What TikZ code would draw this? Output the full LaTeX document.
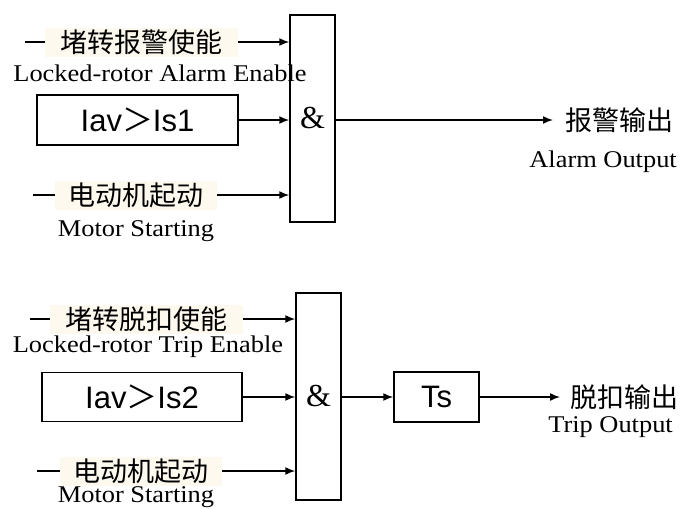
\documentclass[tikz,border=0pt]{standalone}
\usepackage{fontspec}
\setmainfont{Liberation Serif}
\newfontfamily\cjk{Noto Sans CJK SC}
\newfontfamily\arial{Liberation Sans}
\newfontfamily\eng[FakeStretch=1.1]{Liberation Serif}
\usetikzlibrary{arrows.meta}
\definecolor{cream}{RGB}{253,249,238}
\tikzset{
  wire/.style={line width=1.5pt},
  arr/.style={wire,-{Latex[length=10pt,width=8pt]}},
  gate/.style={draw,line width=1.5pt,minimum width=45pt,minimum height=207pt,inner sep=0pt,font=\fontsize{32}{32}\selectfont},
  blk/.style={draw,line width=1.5pt,inner sep=0pt,font=\arial\fontsize{31}{31}\selectfont},
  zh/.style={fill=cream,inner sep=0pt,minimum height=29pt,font=\cjk\fontsize{27}{27}\selectfont},
  en/.style={inner sep=0pt,font=\eng\fontsize{24}{24}\selectfont},
  zhout/.style={inner sep=0pt,font=\cjk\fontsize{27}{27}\selectfont},
}
\begin{document}
\begin{tikzpicture}[x=1pt,y=-1pt]
\useasboundingbox (0,0) rectangle (681,509);
% ---------- top ----------
\node[gate] (g1) at (312.5,118.5) {\&};
\coordinate (a1) at (25,42);
\node[zh,minimum width=193pt] (t1) at (141.5,42) {堵转报警使能};
\node[en] (e1) at (160,73) {Locked-rotor Alarm Enable};
\draw[wire] (a1) -- (t1.west);
\draw[arr] (t1.east) -- (t1.east -| g1.west);
\node[blk,minimum width=201pt,minimum height=50pt] (b1) at (137.5,120) {Iav{\cjk ＞}Is1};
\draw[arr] (b1.east) -- (b1.east -| g1.west);
\coordinate (a3) at (33,195);
\node[zh,minimum width=162pt] (t3) at (136,195) {电动机起动};
\node[en] (e3) at (136,231) {Motor Starting};
\draw[wire] (a3) -- (t3.west);
\draw[arr] (t3.east) -- (t3.east -| g1.west);
\node[zhout,anchor=west] (o1) at (565,120) {报警输出};
\node[en,anchor=east] (oe1) at (677,162) {Alarm Output};
\coordinate (o1a) at (553,120);
\draw[arr] (g1.east |- o1a) -- (o1a);
% ---------- bottom ----------
\node[gate] (g2) at (318.5,396.5) {\&};
\coordinate (c1) at (30,319);
\node[zh,minimum width=193pt] (u1) at (146.5,319) {堵转脱扣使能};
\node[en] (f1) at (148,347) {Locked-rotor Trip Enable};
\draw[wire] (c1) -- (u1.west);
\draw[arr] (u1.east) -- (u1.east -| g2.west);
\node[blk,minimum width=200pt,minimum height=49pt] (b2) at (142,397) {Iav{\cjk ＞}Is2};
\draw[arr] (b2.east) -- (b2.east -| g2.west);
\coordinate (c3) at (37,471);
\node[zh,minimum width=162pt] (u3) at (141,471) {电动机起动};
\node[en] (f3) at (136,497) {Motor Starting};
\draw[wire] (c3) -- (u3.west);
\draw[arr] (u3.east) -- (u3.east -| g2.west);
\node[blk,minimum width=85pt,minimum height=50pt] (ts) at (436.5,397) {Ts};
\draw[arr] (g2.east |- ts.west) -- (ts.west);
\coordinate (o2a) at (560,397);
\draw[arr] (ts.east) -- (o2a);
\node[zhout,anchor=west] (o2) at (570,397) {脱扣输出};
\node[en,anchor=east] (oe2) at (673,427) {Trip Output};
\end{tikzpicture}
\end{document}
